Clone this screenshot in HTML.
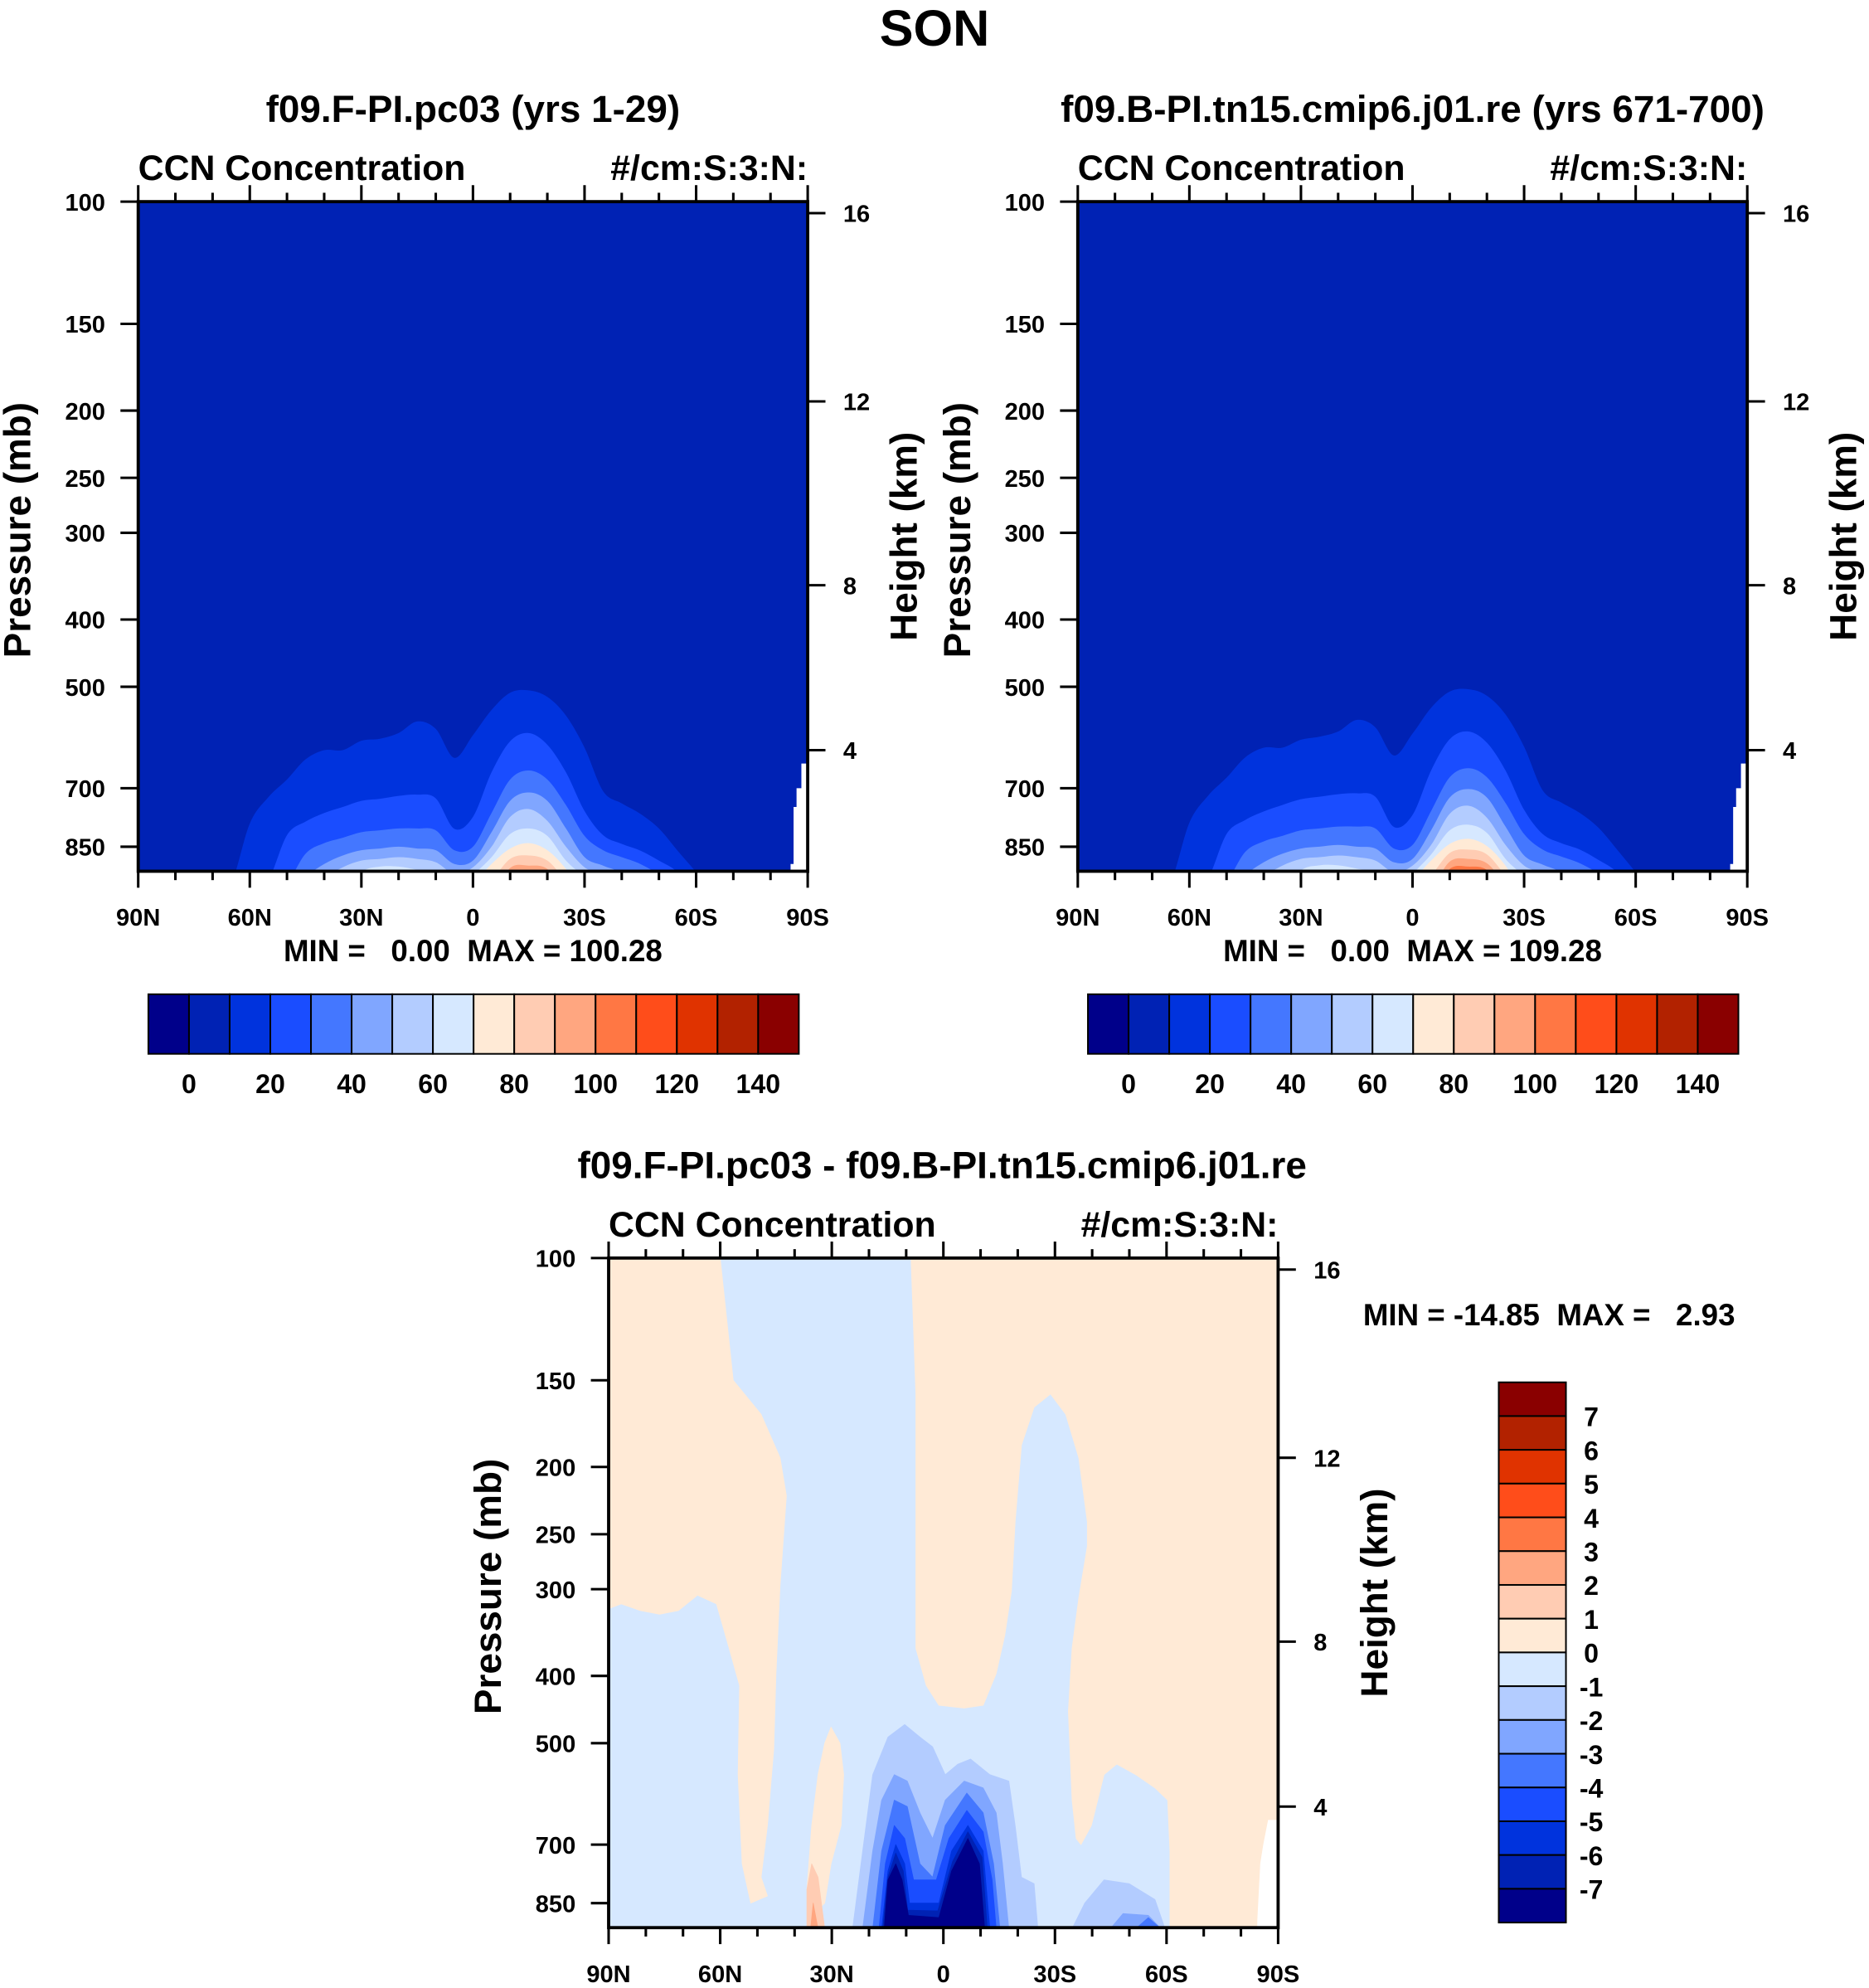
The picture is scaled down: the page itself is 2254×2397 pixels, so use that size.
<!DOCTYPE html>
<html><head><meta charset="utf-8"><style>
html,body{margin:0;padding:0;background:#fff;}
svg{display:block;font-family:"Liberation Sans",Arial,sans-serif;font-weight:bold;}
text{white-space:pre;}
</style></head><body>
<svg id="fig" xmlns="http://www.w3.org/2000/svg" width="2254" height="2397" viewBox="0 0 1474 1567.6" preserveAspectRatio="none">
<text x="737" y="36" text-anchor="middle" font-size="40">SON</text>
<g id="layer"></g>
</svg>
<script>
// ---------- data ----------
const COLORS = ['#00008a','#0022b4','#0033dd','#1a4dff','#4477ff','#80a6ff','#b3ccff','#d6e8ff','#ffead6','#ffccb3','#ffa680','#ff7744','#ff4d1a','#e03300','#b22200','#8a0000'];
const LATS = [90,85,80,75,70,65,60,55,50,45,40,35,30,25,20,15,10,5,0,-5,-10,-15,-20,-25,-30,-35,-40,-45,-50,-55,-60,-65,-70,-75,-80,-85,-90];
const P_TICKS = [100,150,200,250,300,400,500,700,850];
const H_TICKS = [16,12,8,4];
const H_TICK_P = [103.9,194,357,617];
const LAT_TICKS = [90,60,30,0,-30,-60,-90];
const LAT_LABELS = ['90N','60N','30N','0','30S','60S','90S'];
const CB_TOP_LABELS = [0,20,40,60,80,100,120,140];
const CB_DIFF_LABELS = [7,6,5,4,3,2,1,0,-1,-2,-3,-4,-5,-6,-7];
const L_LEV10 = [1000,1000,1000,1000,1000,960,787,721,680,636,617,617,598,594,583,561,575,633,587,540,510,506,517,550,612,707,736,762,800,861,925,1000,1000,1000,1000,1000,1000];
const L_LEV20 = [1000,1000,1000,1000,1000,1000,1000,950,818,782,760,745,730,725,718,715,724,801,770,664,599,583,606,664,755,818,842,861,890,925,1000,1000,1000,1000,1000,1000,1000];
const L_LEV30 = [1000,1000,1000,1000,1000,1000,1000,1000,960,870,840,825,810,805,800,800,805,860,850,760,680,660,680,740,820,860,880,900,935,1000,1000,1000,1000,1000,1000,1000,1000];
const L_LEV40 = [1000,1000,1000,1000,1000,1000,1000,1000,1000,940,900,875,860,855,850,855,860,900,890,810,730,710,730,800,880,905,930,1000,1000,1000,1000,1000,1000,1000,1000,1000,1000];
const L_LEV50 = [1000,1000,1000,1000,1000,1000,1000,1000,1000,1000,945,910,890,885,880,885,895,930,910,850,770,750,780,850,910,935,1000,1000,1000,1000,1000,1000,1000,1000,1000,1000,1000];
const L_LEV60 = [1000,1000,1000,1000,1000,1000,1000,1000,1000,1000,1000,1000,925,908,908,918,935,1000,935,880,815,800,820,890,940,1000,1000,1000,1000,1000,1000,1000,1000,1000,1000,1000,1000];
const L_LEV70 = [1000,1000,1000,1000,1000,1000,1000,1000,1000,1000,1000,1000,1000,1000,1000,1000,1000,1000,960,900,855,840,860,915,1000,1000,1000,1000,1000,1000,1000,1000,1000,1000,1000,1000,1000];
const L_LEV80 = [1000,1000,1000,1000,1000,1000,1000,1000,1000,1000,1000,1000,1000,1000,1000,1000,1000,1000,1000,950,885,875,890,950,1000,1000,1000,1000,1000,1000,1000,1000,1000,1000,1000,1000,1000];
const L_LEV90 = [1000,1000,1000,1000,1000,1000,1000,1000,1000,1000,1000,1000,1000,1000,1000,1000,1000,1000,1000,1000,912,905,915,990,1000,1000,1000,1000,1000,1000,1000,1000,1000,1000,1000,1000,1000];
const R_LEV10 = [1000,1000,1000,1000,1000,955,785,718,676,632,612,612,596,590,580,558,572,628,584,536,508,504,515,548,610,705,734,760,798,858,925,1000,1000,1000,1000,1000,1000];
const R_LEV20 = [1000,1000,1000,1000,1000,1000,1000,945,815,778,756,740,726,720,714,712,720,796,765,660,595,580,602,660,752,815,840,858,888,925,1000,1000,1000,1000,1000,1000,1000];
const R_LEV30 = [1000,1000,1000,1000,1000,1000,1000,1000,955,865,835,820,805,800,795,795,800,855,845,755,675,655,675,735,815,858,878,898,932,1000,1000,1000,1000,1000,1000,1000,1000];
const R_LEV40 = [1000,1000,1000,1000,1000,1000,1000,1000,1000,935,895,870,855,850,845,850,855,895,885,805,722,702,722,795,875,902,928,1000,1000,1000,1000,1000,1000,1000,1000,1000,1000];
const R_LEV50 = [1000,1000,1000,1000,1000,1000,1000,1000,1000,1000,940,905,885,880,875,880,890,925,905,845,762,742,772,845,905,932,1000,1000,1000,1000,1000,1000,1000,1000,1000,1000,1000];
const R_LEV60 = [1000,1000,1000,1000,1000,1000,1000,1000,1000,1000,1000,1000,920,904,904,914,930,990,930,872,805,790,812,885,938,1000,1000,1000,1000,1000,1000,1000,1000,1000,1000,1000,1000];
const R_LEV70 = [1000,1000,1000,1000,1000,1000,1000,1000,1000,1000,1000,1000,1000,1000,1000,1000,1000,1000,950,890,842,828,848,905,1000,1000,1000,1000,1000,1000,1000,1000,1000,1000,1000,1000,1000];
const R_LEV80 = [1000,1000,1000,1000,1000,1000,1000,1000,1000,1000,1000,1000,1000,1000,1000,1000,1000,1000,990,935,868,858,872,935,1000,1000,1000,1000,1000,1000,1000,1000,1000,1000,1000,1000,1000];
const R_LEV90 = [1000,1000,1000,1000,1000,1000,1000,1000,1000,1000,1000,1000,1000,1000,1000,1000,1000,1000,1000,975,893,885,898,960,1000,1000,1000,1000,1000,1000,1000,1000,1000,1000,1000,1000,1000];
const R_LEV100 = [1000,1000,1000,1000,1000,1000,1000,1000,1000,1000,1000,1000,1000,1000,1000,1000,1000,1000,1000,1000,915,908,918,990,1000,1000,1000,1000,1000,1000,1000,1000,1000,1000,1000,1000,1000];
const MISSING = [[-88.3,645],[-87.0,700],[-86.2,745],[-85.4,900]];
const D_PEACH_A = [[90,100],[60,100],[56.5,150],[49,168],[43.9,194],[42.2,220],[43.9,296],[45,397],[45.6,510],[47.3,657],[49,780],[47.3,830],[51.8,850],[54.1,746],[55.2,555],[54.8,413],[57.6,365],[61,315],[66.1,306],[71.2,322],[76.3,326],[81.5,322],[86.6,315],[90,320]];
const D_PEACH_B = [[8.7,100],[7.4,157],[7.4,365],[4.6,413],[1.2,441],[-5.6,445],[-10.7,441],[-14.2,397],[-16.5,350],[-18.3,302],[-19.3,240],[-21,186],[-24.4,164],[-28.8,157],[-32.9,168],[-36.4,194],[-38.7,240],[-38.7,260],[-36.4,309],[-34.6,365],[-33.6,450],[-34.6,604],[-35.7,686],[-37,700],[-39.8,657],[-43.2,555],[-46.6,536],[-51.7,555],[-56.9,580],[-60.3,604],[-60.9,715],[-60.9,925],[-85.9,925],[-85.9,740],[-87.6,657],[-90,644],[-90,100]];
const D_PEACH_C = [[30.2,474],[27.8,500],[26.8,555],[27.5,657],[30.2,746],[31.9,850],[35.4,885],[36.7,813],[35.4,657],[33.7,555],[31.9,500]];
const D_POS1 = [[35.4,746],[33.7,780],[31.9,925],[36.7,925],[36.7,813]];
const D_POS2 = [[35,850],[33.7,925],[35.7,925]];
const D_NEG1 = [[24.4,925],[21.7,715],[19,555],[14.9,490],[10.4,470],[6.3,490],[2.9,506],[-0.5,555],[-3.9,536],[-7.3,527],[-12.5,555],[-17.6,567],[-19.3,657],[-21,780],[-24.4,797],[-25.4,925]];
const D_NEG2 = [[21.7,925],[19,715],[16.6,604],[13.2,555],[9.7,567],[6.3,630],[2.9,686],[-0.5,604],[-5.6,567],[-10.7,580],[-14.2,630],[-15.9,746],[-17.6,925]];
const D_NEG3 = [[19,925],[16.6,715],[13.2,604],[9.7,617],[6.3,746],[2.9,780],[-0.5,657],[-6.3,590],[-10.7,630],[-13.5,746],[-15.2,925]];
const D_NEG4 = [[17.3,925],[15.6,746],[13.2,657],[10.4,686],[8,787],[1.9,787],[-1.5,686],[-6.3,625],[-10.7,671],[-13.1,787],[-14.2,925]];
const D_NEG5 = [[16.6,925],[14.9,764],[12.8,700],[10.4,746],[9.1,850],[1.2,850],[-2.2,715],[-6.6,657],[-10.7,715],[-12.5,925]];
const D_NEG6 = [[16.3,925],[14.9,780],[12.8,720],[10.8,764],[9.6,870],[1.5,872],[-2.5,740],[-6.6,671],[-10.4,730],[-11.8,925]];
const D_NEG7 = [[15.9,925],[14.9,787],[12.8,746],[11.1,787],[9.4,885],[1.2,892],[-2.2,764],[-6.6,686],[-9.7,746],[-11.1,925]];
const D_SOUTH1 = [[-34.6,925],[-38,850],[-43.2,787],[-50,797],[-56.9,840],[-59.6,925]];
const D_SOUTH2 = [[-44.9,925],[-48.3,880],[-55.1,885],[-58.5,925]];
const D_SOUTH3 = [[-51.7,925],[-55.1,892],[-58.5,925]];

// ---------- helpers ----------
const NS='http://www.w3.org/2000/svg';
const layer=document.getElementById('layer');
const PW=528, PH=528, PBOT=922;
function mk(tag, attrs, parent){const e=document.createElementNS(NS,tag);for(const k in attrs)e.setAttribute(k,attrs[k]);(parent||layer).appendChild(e);return e;}
function txt(s,x,y,size,anchor,parent){const t=mk('text',{x:x,y:y,'font-size':size,'text-anchor':anchor||'middle'},parent);t.textContent=s;return t;}
function xScale(ox){return lat=>ox+(90-lat)/180*PW;}
function yScale(oy){return p=>oy+PH*Math.log10(p/100)/Math.log10(PBOT/100);}
function smoothPath(pts){let d='M'+pts[0][0]+','+pts[0][1];for(let i=0;i<pts.length-1;i++){const p0=pts[Math.max(0,i-1)],p1=pts[i],p2=pts[i+1],p3=pts[Math.min(pts.length-1,i+2)];d+=' C'+(p1[0]+(p2[0]-p0[0])/6)+','+(p1[1]+(p2[1]-p0[1])/6)+' '+(p2[0]-(p3[0]-p1[0])/6)+','+(p2[1]-(p3[1]-p1[1])/6)+' '+p2[0]+','+p2[1];}return d;}
let clipN=0;

function axes(g,ox,oy,X,Y){
  P_TICKS.forEach(p=>{mk('line',{x1:ox-14,x2:ox,y1:Y(p),y2:Y(p),stroke:'#000','stroke-width':2},g);
    const t=txt(String(p),ox-26,Y(p)+7,19,'end',g);});
  H_TICKS.forEach((h,i)=>{const y=Y(H_TICK_P[i]);mk('line',{x1:ox+PW,x2:ox+PW+14,y1:y,y2:y,stroke:'#000','stroke-width':2},g);
    const t=txt(String(h),ox+PW+28,y+7,19,'start',g);});
  for(let lat=90;lat>=-90;lat-=10){const x=X(lat);const major=lat%30===0;const L=major?13:7;
    mk('line',{x1:x,x2:x,y1:oy+PH,y2:oy+PH+L,stroke:'#000','stroke-width':2},g);
    mk('line',{x1:x,x2:x,y1:oy,y2:oy-L,stroke:'#000','stroke-width':2},g);}
  LAT_TICKS.forEach((lat,i)=>{const t=txt(LAT_LABELS[i],X(lat),oy+PH+43,19,'middle',g);});
  mk('rect',{x:ox,y:oy,width:PW,height:PH,fill:'none',stroke:'#000','stroke-width':2.5},g);
  const t1=txt('CCN Concentration',ox,oy-17,28,'start',g);
  const t2=txt('#/cm:S:3:N:',ox+PW,oy-17,28,'end',g);
  const ya=txt('Pressure (mb)',0,0,30,'middle',g);ya.setAttribute('transform','translate('+(ox-85)+','+(oy+PH/2-5)+') rotate(-90)');
  
  const yb=txt('Height (km)',0,0,30,'middle',g);yb.setAttribute('transform','translate('+(ox+PW+86)+','+(oy+PH/2)+') rotate(-90)');
  
}

function topPanel(name,ox,oy,levels,title,minmax){
  const g=mk('g',{});
  const X=xScale(ox),Y=yScale(oy);
  const id='clip'+(clipN++);const cp=mk('clipPath',{id:id},g);mk('rect',{x:ox,y:oy,width:PW,height:PH},cp);
  const cg=mk('g',{'clip-path':'url(#'+id+')'},g);
  const bg=mk('rect',{x:ox,y:oy,width:PW,height:PH,fill:COLORS[1]},cg);
  
  levels.forEach((arr,k)=>{
    const pts=LATS.map((lat,i)=>[X(lat),Y(arr[i])]);
    const d=smoothPath(pts)+' L'+X(-95)+','+(oy+PH+60)+' L'+X(95)+','+(oy+PH+60)+' Z';
    const path=mk('path',{d:'M'+X(95)+','+Y(1000)+' L'+d.slice(1),fill:COLORS[k+2]},cg);
    
  });
  let sd='M'+X(-90)+','+Y(MISSING[0][1]);
  for(let i=0;i<MISSING.length;i++){sd+=' L'+X(MISSING[i][0])+','+Y(MISSING[i][1]);if(i<MISSING.length-1)sd+=' L'+X(MISSING[i][0])+','+Y(MISSING[i+1][1]);}
  sd+=' L'+X(MISSING[MISSING.length-1][0])+','+(oy+PH)+' L'+X(-90)+','+(oy+PH)+' Z';
  const ms=mk('path',{d:sd,fill:'#fff'},cg);
  axes(g,ox,oy,X,Y);
  const tt=txt(title,ox+PW/2,oy-63,30,'middle',g);
  const mm=txt(minmax,ox+PW/2,oy+PH+71,24,'middle',g);
  const cb=mk('g',{},g);
  const cx=ox+8,cw=513/16,cy=oy+PH+97,ch=47;
  COLORS.forEach((c,i)=>{const r=mk('rect',{x:cx+i*cw,y:cy,width:cw,height:ch,fill:c,stroke:'#000','stroke-width':1.3},cb);
    });
  CB_TOP_LABELS.forEach(v=>{const i=v/10+1;const t=txt(String(v),cx+i*cw,cy+ch+31,21,'middle',cb);
    });
}

topPanel('panel-f09-F',109,159,[L_LEV10,L_LEV20,L_LEV30,L_LEV40,L_LEV50,L_LEV60,L_LEV70,L_LEV80,L_LEV90],'f09.F-PI.pc03 (yrs 1-29)','MIN =   0.00  MAX = 100.28');
topPanel('panel-f09-B',850,159,[R_LEV10,R_LEV20,R_LEV30,R_LEV40,R_LEV50,R_LEV60,R_LEV70,R_LEV80,R_LEV90,R_LEV100],'f09.B-PI.tn15.cmip6.j01.re (yrs 671-700)','MIN =   0.00  MAX = 109.28');

(function(){
  const ox=480,oy=992;
  const g=mk('g',{});
  const X=xScale(ox),Y=yScale(oy);
  const id='clip'+(clipN++);const cp=mk('clipPath',{id:id},g);mk('rect',{x:ox,y:oy,width:PW,height:PH},cp);
  const cg=mk('g',{'clip-path':'url(#'+id+')'},g);
  const bg=mk('rect',{x:ox,y:oy,width:PW,height:PH,fill:COLORS[7]},cg);
  
  const regions=[[D_PEACH_A,8],[D_PEACH_B,8],[D_PEACH_C,8],[D_POS1,9],[D_POS2,10],[D_NEG1,6],[D_NEG2,5],[D_NEG3,4],[D_NEG4,3],[D_NEG5,2],[D_NEG6,1],[D_NEG7,0],[D_SOUTH1,6],[D_SOUTH2,5],[D_SOUTH3,4]];
  regions.forEach(r=>{
    const d='M'+r[0].map(q=>X(q[0])+','+Y(q[1])).join(' L')+' Z';
    const path=mk('path',{d:d,fill:COLORS[r[1]],'stroke':COLORS[r[1]],'stroke-width':0.5,'stroke-linejoin':'round'},cg);
    
  });
  let sd='M'+X(-90)+','+Y(MISSING[0][1]);
  for(let i=0;i<MISSING.length;i++){sd+=' L'+X(MISSING[i][0]+1)+','+Y(MISSING[i][1]);}
  sd+=' L'+X(MISSING[MISSING.length-1][0]+1)+','+(oy+PH)+' L'+X(-90)+','+(oy+PH)+' Z';
  const ms=mk('path',{d:sd,fill:'#fff'},cg);
  axes(g,ox,oy,X,Y);
  const tt=txt('f09.F-PI.pc03 - f09.B-PI.tn15.cmip6.j01.re',743,929,30,'middle',g);
  const mm=txt('MIN = -14.85  MAX =   2.93',1075,1045,24,'start',g);
  const cb=mk('g',{},g);
  const cx=1182,cy=1090,cw=53,ch=426/16;
  for(let i=0;i<16;i++){const r=mk('rect',{x:cx,y:cy+i*ch,width:cw,height:ch,fill:COLORS[15-i],stroke:'#000','stroke-width':1.3},cb);
    }
  CB_DIFF_LABELS.forEach(v=>{const i=7-v+1;const t=txt(String(v),cx+cw+20,cy+i*ch+8,21,'middle',cb);
    });
})();
</script>
</body></html>
